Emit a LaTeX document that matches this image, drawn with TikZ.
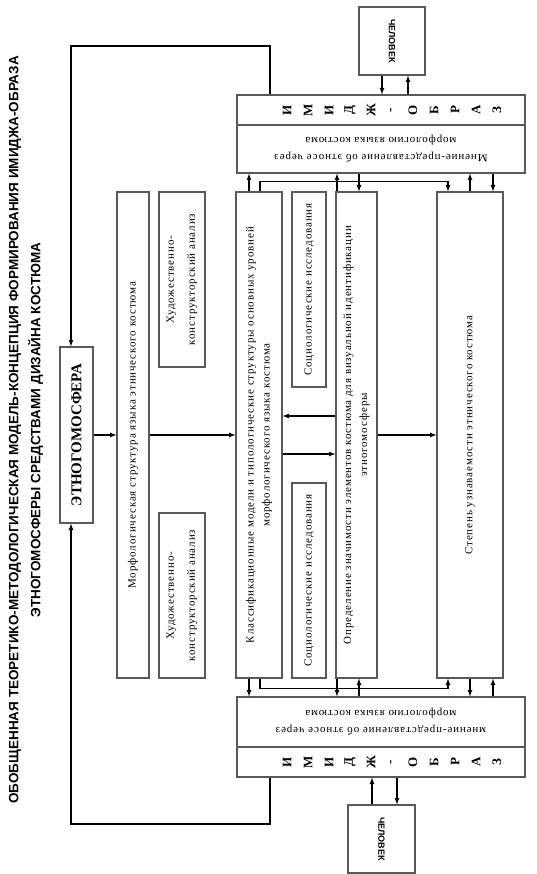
\documentclass[tikz,border=0pt]{standalone}
\usepackage{fontspec}
\setmainfont{Liberation Serif}
\newfontfamily\boxfont[LetterSpace=8]{Liberation Serif}
\newfontfamily\headfont{Liberation Sans}
\tikzset{
  box/.style={draw=black!65, line width=1.2pt, inner sep=0pt},
  boxtext/.style={rotate=90, align=center, inner sep=0pt, font=\boxfont\fontsize{11}{16}\selectfont},
  imtextstyle/.style={rotate=180, align=center, inner sep=0pt, font=\boxfont\fontsize{11}{17}\selectfont},
  letter/.style={rotate=90, inner sep=0pt, font=\bfseries\fontsize{13}{13}\selectfont},
  arr/.style={line width=1.2pt, -latex},
}
\begin{document}
\begin{tikzpicture}[x=1pt,y=-1pt]
\useasboundingbox (0,0) rectangle (537,874);

% заголовок
\node[rotate=90, align=center, font=\headfont\bfseries\fontsize{13.5}{22}\selectfont] (title) at (26,430)
  {ОБОБЩЕННАЯ ТЕОРЕТИКО-МЕТОДОЛОГИЧЕСКАЯ МОДЕЛЬ-КОНЦЕПЦИЯ ФОРМИРОВАНИЯ ИМИДЖА-ОБРАЗА\\
   ЭТНОГОМОСФЕРЫ СРЕДСТВАМИ ДИЗАЙНА КОСТЮМА};

% блоки
\node[box, minimum width=33pt, minimum height=176pt] (etno) at (76.5,435) {};
\node[box, minimum width=32pt, minimum height=486pt] (morph) at (133,435) {};
\node[box, minimum width=46pt, minimum height=175pt] (hudt) at (182,279.5) {};
\node[box, minimum width=46pt, minimum height=165pt] (hudb) at (182,595.5) {};
\node[box, minimum width=46pt, minimum height=486pt] (klass) at (259,435) {};
\node[box, minimum width=34pt, minimum height=195pt] (soct) at (309,289.5) {};
\node[box, minimum width=34pt, minimum height=195pt] (socb) at (309,580.5) {};
\node[box, minimum width=41pt, minimum height=486pt] (opred) at (356.5,435) {};
\node[box, minimum width=66pt, minimum height=486pt] (stepen) at (470,435) {};

% имидж-образ сверху и снизу
\node[box, minimum width=288pt, minimum height=30pt] (imword) at (381,110) {};
\node[box, minimum width=288pt, minimum height=48pt] (imtext) at (381,149) {};
\node[box, minimum width=288pt, minimum height=50pt] (imbtext) at (381,722) {};
\node[box, minimum width=288pt, minimum height=30pt] (imbword) at (381,762) {};

% человек
\node[box, minimum width=66pt, minimum height=68pt] (chelt) at (392,41) {};
\node[box, minimum width=67pt, minimum height=68pt] (chelb) at (381.5,839) {};

% тексты
\node[rotate=90, inner sep=0pt, font=\bfseries\fontsize{15}{15}\selectfont] (etnot) at (etno) {ЭТНОГОМОСФЕРА};
\node[boxtext] (morpht) at (morph) {Морфологическая структура языка этнического костюма};
\node[boxtext, font=\boxfont\fontsize{11}{21}\selectfont] (hudtt) at (hudt) {Художественно-\\конструкторский анализ};
\node[boxtext, font=\boxfont\fontsize{11}{21}\selectfont] (hudbt) at (hudb) {Художественно-\\конструкторский анализ};
\node[boxtext] (klasst) at (klass) {Классификационные модели и типологические структуры основных уровней\\морфологического языка костюма};
\node[boxtext] (soctt) at (soct) {Социологические исследования};
\node[boxtext] (socbt) at (socb) {Социологические исследования};
\node[boxtext] (opredt) at (opred) {Определение значимости элементов костюма для визуальной идентификации\\этногомосферы};
\node[boxtext] (stepent) at (stepen) {Степень узнаваемости этнического костюма};
\node[imtextstyle] (imtextt) at (imtext) {Мнение-представление об этносе через\\морфологию языка костюма};
\node[imtextstyle] (imbtextt) at (imbtext) {мнение-представление об этносе через\\морфологию языка костюма};
\node[rotate=-90, inner sep=0pt, font=\headfont\bfseries\fontsize{9}{9}\selectfont] (cheltt) at (chelt) {ЧЕЛОВЕК};
\node[rotate=-90, inner sep=0pt, font=\headfont\bfseries\fontsize{9}{9}\selectfont] (chelbt) at (chelb) {ЧЕЛОВЕК};

\foreach \ch [count=\i from 0] in {И,М,И,Д,Ж,-,О,Б,Р,А,З} {
  \node[letter] (wt\i) at (287+21*\i,110) {\ch};
  \node[letter] (wb\i) at (287+21*\i,762) {\ch};
}

% обратная связь
\coordinate (looptop) at (71,46);
\coordinate (loopbot) at (71,824);
\draw[arr] ([xshift=-111pt]imword.north) |- (looptop) -- (looptop |- etno.north);
\draw[arr] ([xshift=-111pt]imbword.south) |- (loopbot) -- (loopbot |- etno.south);

% горизонтальные связи
\draw[arr] (etno.east) -- (morph.west);
\draw[arr] (morph.east) -- (klass.west);
\draw[arr] ([yshift=19pt]opred.west) -- ([yshift=19pt]opred.west -| klass.east);
\draw[arr] ([yshift=-19pt]klass.east) -- ([yshift=-19pt]klass.east -| opred.west);
\draw[arr] (opred.east) -- (stepen.west);

% связи сверху
\draw[arr] ([xshift=-10pt]klass.north) -- ([xshift=-10pt]klass.north |- imtext.south);
\draw[arr] ([xshift=1pt]klass.north) -- ++(0,-10) -| ([xshift=-22pt]stepen.north);
\draw[arr] ([xshift=-19.5pt]opred.north) -- ([xshift=-19.5pt]opred.north |- imtext.south);
\draw[arr] ([xshift=2.5pt]opred.north |- imtext.south) -- ([xshift=2.5pt]opred.north);
\draw[arr] (stepen.north) -- (stepen.north |- imtext.south);
\draw[arr] ([xshift=23pt]stepen.north |- imtext.south) -- ([xshift=23pt]stepen.north);

% связи снизу
\draw[arr] ([xshift=-10pt]klass.south) -- ([xshift=-10pt]klass.south |- imbtext.north);
\draw[arr] ([xshift=1pt]klass.south) -- ++(0,10) -| ([xshift=-22pt]stepen.south);
\draw[arr] ([xshift=-19.5pt]opred.south) -- ([xshift=-19.5pt]opred.south |- imbtext.north);
\draw[arr] ([xshift=2.5pt]opred.south |- imbtext.north) -- ([xshift=2.5pt]opred.south);
\draw[arr] (stepen.south) -- (stepen.south |- imbtext.north);
\draw[arr] ([xshift=23pt]stepen.south |- imbtext.north) -- ([xshift=23pt]stepen.south);

% человек
\draw[arr] ([xshift=-10pt]chelt.south) -- ([xshift=-10pt]chelt.south |- imword.north);
\draw[arr] ([xshift=16pt]chelt.south |- imword.north) -- ([xshift=16pt]chelt.south);
\draw[arr] ([xshift=-9.5pt]chelb.north) -- ([xshift=-9.5pt]chelb.north |- imbword.south);
\draw[arr] ([xshift=15.5pt]chelb.north |- imbword.south) -- ([xshift=15.5pt]chelb.north);
\end{tikzpicture}
\end{document}
